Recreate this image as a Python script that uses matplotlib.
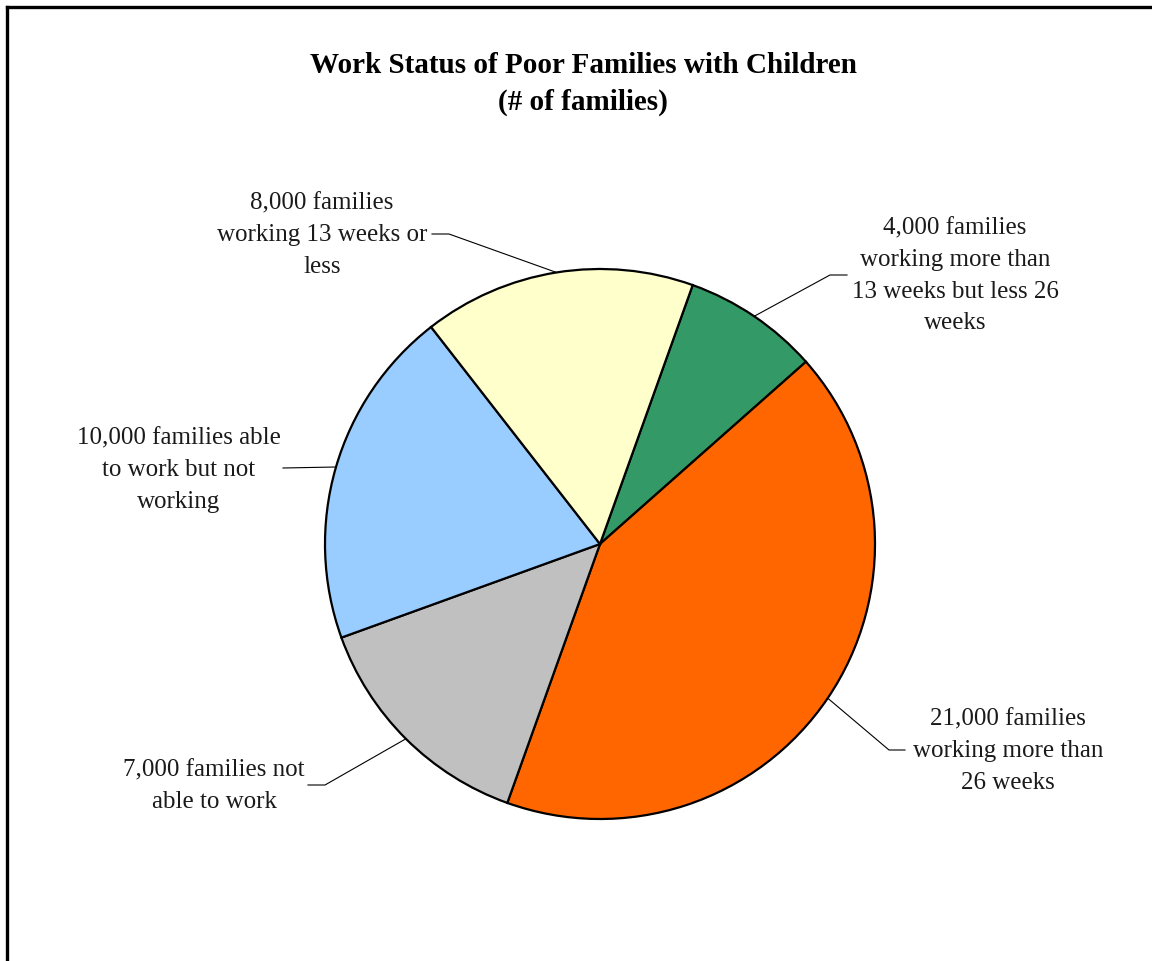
import numpy as np
import matplotlib
matplotlib.use("Agg")
from matplotlib import pyplot as plt
from matplotlib.lines import Line2D

plt.rcParams['font.family'] = ['Liberation Serif', 'DejaVu Serif']

# data, in drawing order (clockwise)
families = [4000, 21000, 7000, 10000, 8000]
labels = ['4,000 families\nworking more than\n13 weeks but less 26\nweeks',
          '21,000 families\nworking more than\n26 weeks',
          '7,000 families not\nable to work',
          '10,000 families able\nto work but not\nworking',
          '8,000 families\nworking 13 weeks or\nless']
colors = ['#339966', '#FF6600', '#C0C0C0', '#99CCFF', '#FFFFCC']

W, H = 1152, 962
CX, CY, R = 600, 545, 275


def px(x, y):
    """pixel position -> data coords (pie radius = 1)"""
    return (x - CX) / R, (CY - y) / R


# label layout in pixels: text centre, elbow, end of horizontal stub
text_pos = [(955, 276), (1008, 751), (214, 786), (179, 470), (322, 235)]
elbows = [(830, 276), (889, 751), (325, 786), (336, 468), (449, 235)]
stubs = [(847, 276), (905, 751), (308, 786), (283, 469), (432, 235)]

fig = plt.figure(figsize=(W / 100, H / 100), dpi=100)
ax = fig.add_axes([0, 0, 1, 1])
ax.axis('off')

wedges, _ = ax.pie(families, colors=colors, startangle=90 - 19.7,
                   counterclock=False, radius=1,
                   wedgeprops=dict(edgecolor='black', linewidth=1.6))
ax.set_xlim(-CX / R, (W - CX) / R)
ax.set_ylim((CY - H) / R, CY / R)
ax.set_aspect('equal')

for w, lab, tp, eb, st in zip(wedges, labels, text_pos, elbows, stubs):
    mid = np.deg2rad((w.theta1 + w.theta2) / 2)
    sx, sy = np.cos(mid), np.sin(mid)
    ex, ey = px(*eb)
    hx, hy = px(*st)
    ax.plot([sx, ex, hx], [sy, ey, hy], color='black', lw=0.8)
    tx, ty = px(*tp)
    ax.text(tx, ty, lab, ha='center', va='center', fontsize=18,
            linespacing=1.56, color='#1a1a1a')

fig.text(583 / W, 1 - 84 / H,
         'Work Status of Poor Families with Children\n(# of families)',
         ha='center', va='center', fontsize=21, fontweight='bold',
         linespacing=1.5)

# chart border (left and top visible)
fig.add_artist(Line2D([7 / W, 7 / W], [0, 1 - 8 / H], color='black',
                      lw=2.4, transform=fig.transFigure))
fig.add_artist(Line2D([7 / W, 1], [1 - 8 / H, 1 - 8 / H], color='black',
                      lw=2.4, transform=fig.transFigure))

fig.savefig('out.png', dpi=100)
